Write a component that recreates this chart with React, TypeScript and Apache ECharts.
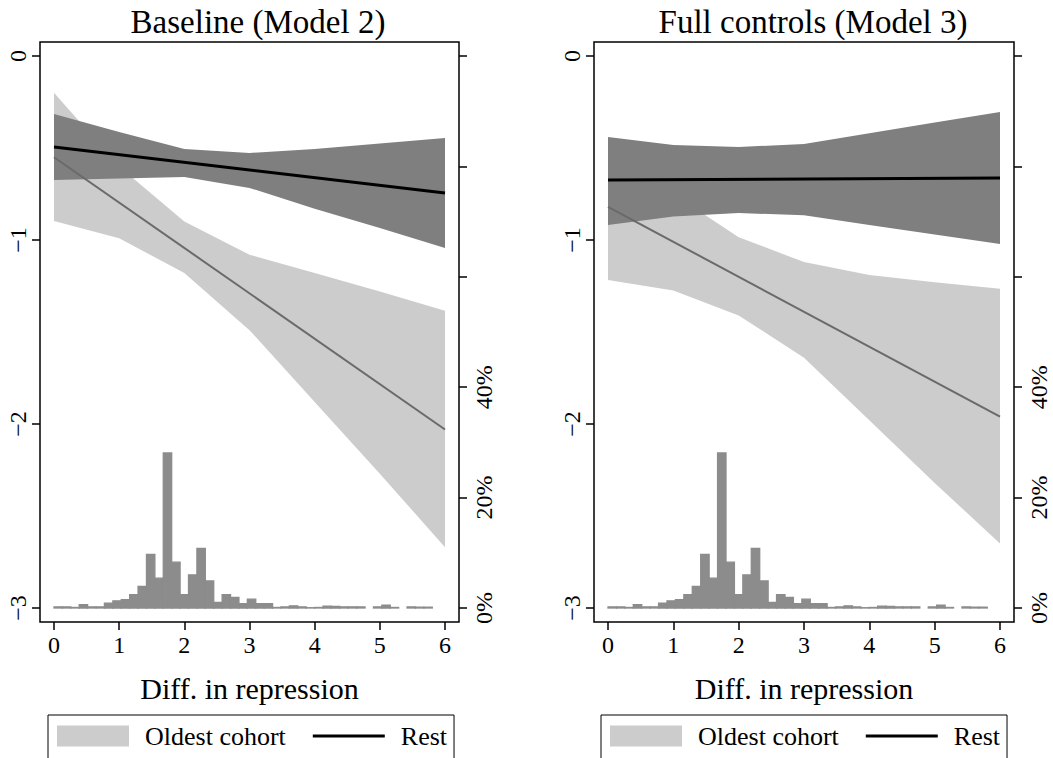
import React, { useEffect, useRef } from 'react';
import * as echarts from 'echarts';

const FONT = '"Liberation Serif", "Times New Roman", Times, serif';

// x positions where the confidence bands were read
const bandX = [0, 1, 2, 3, 4, 5, 6];
// end points of the fitted straight lines
const lineX = [0, 6];

// Baseline (Model 2)
const m2OldLo = [-0.897, -0.99, -1.18, -1.49, -1.88, -2.27, -2.67];
const m2OldHi = [-0.2, -0.6, -0.9, -1.08, -1.18, -1.28, -1.385];
const m2OldLine = [-0.55, -2.03];
const m2RestLo = [-0.674, -0.666, -0.658, -0.717, -0.83, -0.935, -1.043];
const m2RestHi = [-0.315, -0.413, -0.505, -0.527, -0.505, -0.475, -0.446];
const m2RestLine = [-0.495, -0.745];

// Full controls (Model 3)
const m3OldLo = [-1.217, -1.275, -1.41, -1.64, -1.98, -2.32, -2.65];
const m3OldHi = [-0.46, -0.75, -0.985, -1.12, -1.19, -1.23, -1.265];
const m3OldLine = [-0.82, -1.96];
const m3RestLo = [-0.918, -0.872, -0.853, -0.866, -0.918, -0.97, -1.022];
const m3RestHi = [-0.44, -0.484, -0.495, -0.478, -0.42, -0.362, -0.304];
const m3RestLine = [-0.674, -0.663];

// Histogram of diff. in repression (percent per bin)
const histStart = 0;
const histBinWidth = 0.129;
const histPct = [
  0.2, 0.2, 0.1, 0.6, 0.2, 0.2, 0.9, 1.3, 1.5, 2.4, 3.9, 9.7, 5.4, 28.1, 8.3,
  2.4, 6.0, 10.8, 4.9, 1.0, 2.4, 1.9, 0.8, 1.6, 0.8, 0.8, 0.1, 0.2, 0.4, 0.2,
  0.05, 0.1, 0.35, 0.3, 0.2, 0.2, 0.2, 0, 0.2, 0.5, 0.1, 0, 0.2, 0.15, 0.15,
];

const leftTicks = [-3, -2, -1, 0];
const pctTickLabels = ['0%', '20%', '40%'];

const LIGHT = '#cccccc';
const DARK = '#7f7f7f';
const HIST = '#8c8c8c';
const OLDLINE = '#6a6a6a';

function bandSeries(name: string, xi: number, yi: number, lo: number[], hi: number[], color: string, z: number) {
  return {
    type: 'custom',
    name,
    xAxisIndex: xi,
    yAxisIndex: yi,
    z,
    silent: true,
    itemStyle: { color },
    data: bandX.map((x, i) => [x, lo[i], hi[i]]),
    encode: { x: 0, y: [1, 2] },
    renderItem: (params: any, api: any) => {
      if (params.dataIndex !== 0) return null;
      const pts: number[][] = [];
      for (let i = 0; i < bandX.length; i++) pts.push(api.coord([bandX[i], hi[i]]));
      for (let i = bandX.length - 1; i >= 0; i--) pts.push(api.coord([bandX[i], lo[i]]));
      return { type: 'polygon', shape: { points: pts }, style: { fill: color } };
    },
  };
}

function histSeries(xi: number, yi: number) {
  return {
    type: 'custom',
    name: 'hist',
    xAxisIndex: xi,
    yAxisIndex: yi,
    z: 2,
    silent: true,
    data: histPct.map((p, i) => [histStart + i * histBinWidth, histStart + (i + 1) * histBinWidth, p]),
    encode: { x: [0, 1], y: 2 },
    renderItem: (params: any, api: any) => {
      const p = api.value(2);
      if (!p) return null;
      const a = api.coord([api.value(0), 0]);
      const b = api.coord([api.value(1), p]);
      return {
        type: 'rect',
        shape: { x: a[0], y: b[1], width: b[0] - a[0], height: a[1] - b[1] },
        style: { fill: HIST, stroke: HIST, lineWidth: 1.3 },
      };
    },
  };
}

function lineSeries(name: string, xi: number, yi: number, ys: number[], color: string, width: number) {
  return {
    type: 'line',
    name,
    xAxisIndex: xi,
    yAxisIndex: yi,
    z: 4,
    silent: true,
    clip: false,
    symbol: 'none',
    showSymbol: false,
    data: lineX.map((x, i) => [x, ys[i]]),
    lineStyle: { color, width },
    itemStyle: { color },
  };
}

function xAxisDef(gi: number) {
  return {
    gridIndex: gi,
    type: 'value',
    position: 'bottom',
    min: 0,
    max: 6,
    interval: 1,
    offset: 14,
    axisLine: { show: false, onZero: false },
    axisTick: { show: true, inside: false, length: 8, lineStyle: { color: '#000', width: 1.5 } },
    axisLabel: { fontSize: 24, fontFamily: FONT, color: '#000', margin: 11 },
    splitLine: { show: false },
    name: 'Diff. in repression',
    nameLocation: 'middle',
    nameGap: 51,
    nameTextStyle: { fontSize: 30, fontFamily: FONT, color: '#000' },
  };
}

function yLeftDef(gi: number) {
  return {
    gridIndex: gi,
    type: 'value',
    position: 'left',
    min: leftTicks[0],
    max: leftTicks[leftTicks.length - 1],
    interval: 1,
    offset: 14,
    axisLine: { show: false, onZero: false },
    axisTick: { length: 8, lineStyle: { color: '#000', width: 1.5 } },
    axisLabel: {
      fontSize: 24,
      fontFamily: FONT,
      color: '#000',
      rotate: 90,
      margin: 10,
      formatter: (v: number) => (v < 0 ? '\u2212' + Math.abs(v) : String(v)),
    },
    splitLine: { show: false },
  };
}

function yRightDef(gi: number) {
  return {
    gridIndex: gi,
    type: 'value',
    position: 'right',
    min: 0,
    max: 100,
    interval: 20,
    offset: 14,
    axisLine: { show: false, onZero: false },
    axisTick: { length: 8, lineStyle: { color: '#000', width: 1.5 } },
    axisLabel: {
      fontSize: 24,
      fontFamily: FONT,
      color: '#000',
      rotate: 90,
      margin: 13,
      formatter: (v: number) => {
        const s = v + '%';
        return pctTickLabels.indexOf(s) >= 0 ? s : '';
      },
    },
    splitLine: { show: false },
  };
}

function legendDef(left: number) {
  return {
    left,
    top: 715,
    orient: 'horizontal',
    selectedMode: false,
    data: [
      { name: 'Oldest cohort', icon: 'rect' },
      { name: 'Rest', icon: 'path://M0,0 L72,0 L72,3 L0,3 Z' },
    ],
    itemWidth: 72,
    itemHeight: 21,
    itemGap: 27,
    borderColor: '#000',
    borderWidth: 1,
    borderRadius: 0,
    padding: [8, 7, 16, 9],
    textStyle: { fontSize: 26, fontFamily: FONT, color: '#000', padding: [0, 0, 0, 11] },
  };
}

export default function App() {
  const ref = useRef<HTMLDivElement>(null);

  useEffect(() => {
    if (!ref.current) return;
    const chart = echarts.init(ref.current, undefined, { renderer: 'svg' });
    const option: any = {
      animation: false,
      backgroundColor: '#ffffff',
      grid: [
        { left: 54, top: 56, width: 391, height: 552 },
        { left: 608, top: 56, width: 392, height: 552 },
      ],
      xAxis: [xAxisDef(0), xAxisDef(1)],
      yAxis: [yLeftDef(0), yRightDef(0), yLeftDef(1), yRightDef(1)],
      legend: [legendDef(48), legendDef(601)],
      graphic: [
        {
          type: 'text',
          x: 258,
          y: 22,
          style: { text: 'Baseline (Model 2)', fontSize: 33, fontFamily: FONT, fill: '#000', align: 'center', verticalAlign: 'middle' },
        },
        {
          type: 'text',
          x: 813,
          y: 22,
          style: { text: 'Full controls (Model 3)', fontSize: 33, fontFamily: FONT, fill: '#000', align: 'center', verticalAlign: 'middle' },
        },
        {
          type: 'rect',
          z: 100,
          shape: { x: 40, y: 42, width: 419, height: 580 },
          style: { fill: 'none', stroke: '#000', lineWidth: 1.5 },
          silent: true,
        },
        {
          type: 'rect',
          z: 100,
          shape: { x: 594, y: 42, width: 420, height: 580 },
          style: { fill: 'none', stroke: '#000', lineWidth: 1.5 },
          silent: true,
        },
      ],
      series: [
        bandSeries('Oldest cohort', 0, 0, m2OldLo, m2OldHi, LIGHT, 1),
        bandSeries('Rest CI', 0, 0, m2RestLo, m2RestHi, DARK, 2),
        histSeries(0, 1),
        lineSeries('Oldest cohort fit', 0, 0, m2OldLine, OLDLINE, 2),
        lineSeries('Rest', 0, 0, m2RestLine, '#000', 3),
        bandSeries('Oldest cohort', 1, 2, m3OldLo, m3OldHi, LIGHT, 1),
        bandSeries('Rest CI', 1, 2, m3RestLo, m3RestHi, DARK, 2),
        histSeries(1, 3),
        lineSeries('Oldest cohort fit', 1, 2, m3OldLine, OLDLINE, 2),
        lineSeries('Rest', 1, 2, m3RestLine, '#000', 3),
      ],
    };
    chart.setOption(option);
    return () => chart.dispose();
  }, []);

  return (
    <div
      ref={ref}
      style={{ position: 'fixed', left: 0, top: 0, width: 1053, height: 758, background: '#fff' }}
    />
  );
}
